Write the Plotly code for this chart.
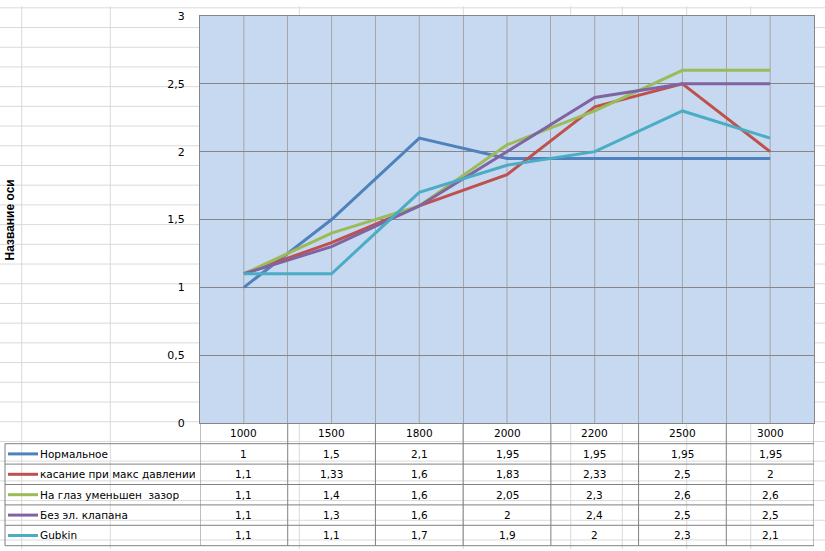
import plotly.graph_objects as go

# ---------------- data ----------------
categories = ["1000", "1500", "1800", "2000", "2200", "2500", "3000"]
series_names = [
    "Нормальное",
    "касание при макс давлении",
    "На глаз уменьшен  зазор",
    "Без эл. клапана",
    "Gubkin",
]
normalnoe = [1, 1.5, 2.1, 1.95, 1.95, 1.95, 1.95]
kasanie = [1.1, 1.33, 1.6, 1.83, 2.33, 2.5, 2]
na_glaz = [1.1, 1.4, 1.6, 2.05, 2.3, 2.6, 2.6]
bez_klapana = [1.1, 1.3, 1.6, 2, 2.4, 2.5, 2.5]
gubkin = [1.1, 1.1, 1.7, 1.9, 2, 2.3, 2.1]
y_tick_values = [0, 0.5, 1, 1.5, 2, 2.5, 3]
y_axis_title = "Название оси"

series_values = [normalnoe, kasanie, na_glaz, bez_klapana, gubkin]
colors = ["#4F81BD", "#C0504D", "#9BBB59", "#8064A2", "#4BACC6"]

# ---------------- geometry ----------------
FIG_W, FIG_H = 825, 551
ML, MR, MT, MB = 200, 11, 10, 128
PW = FIG_W - ML - MR
PH = FIG_H - MT - MB
FONT = "DejaVu Sans"
TXT = 10.5


def px_x(px):
    return (px - ML) / PW


def px_y(py):
    return (PH + MT - py) / PH


def fmt(v):
    return f"{v:g}".replace(".", ",")


# category index positions on the category axis
cat_pos = list(range(len(categories)))

# spreadsheet background grid (pixel positions)
sheet_cols = [21.7, 110.3, 299.3, 463.3, 570.7, 622.3, 686.7, 750.7]
sheet_rows = [1.7 + 20 * k for k in range(28)]
SHEET_COLOR = "#DADADA"

# table geometry (pixels)
TABLE_LEFT = 5
HEADER_BOTTOM = 444
ROW_H = 20.7
row_edges = [HEADER_BOTTOM + ROW_H * i for i in range(len(series_names) + 1)]
TABLE_BOTTOM = row_edges[-1]
BORDER = "#808080"

fig = go.Figure()

for name, vals, col in zip(series_names, series_values, colors):
    fig.add_trace(go.Scatter(
        x=categories, y=vals, mode="lines", name=name,
        line=dict(color=col, width=3), showlegend=False,
        hoverinfo="skip",
    ))

shapes = []
# spreadsheet lines
for py in sheet_rows:
    shapes.append(dict(type="line", xref="paper", yref="paper",
                       x0=px_x(0), x1=px_x(FIG_W), y0=px_y(py), y1=px_y(py),
                       line=dict(color=SHEET_COLOR, width=1), layer="below"))
for px in sheet_cols:
    shapes.append(dict(type="line", xref="paper", yref="paper",
                       x0=px_x(px), x1=px_x(px), y0=px_y(0), y1=px_y(FIG_H),
                       line=dict(color=SHEET_COLOR, width=1), layer="below"))
# plot area fill
shapes.append(dict(type="rect", xref="paper", yref="paper", x0=0, x1=1, y0=0, y1=1,
                   fillcolor="#C6D9F1", line=dict(width=0), layer="below"))
# vertical gridlines at category centres
for p in cat_pos:
    shapes.append(dict(type="line", xref="x", yref="paper", x0=p, x1=p, y0=0, y1=1,
                       line=dict(color="#A6A6A6", width=1), layer="below"))
# table horizontal borders
for py in row_edges:
    shapes.append(dict(type="line", xref="paper", yref="paper",
                       x0=px_x(TABLE_LEFT), x1=1, y0=px_y(py), y1=px_y(py),
                       line=dict(color=BORDER, width=1)))
# table vertical borders at category boundaries
for i in range(len(categories) + 1):
    shapes.append(dict(type="line", xref="x", yref="paper",
                       x0=i - 0.5, x1=i - 0.5, y0=0, y1=px_y(TABLE_BOTTOM),
                       line=dict(color=BORDER, width=1)))
shapes.append(dict(type="line", xref="paper", yref="paper",
                   x0=px_x(TABLE_LEFT), x1=px_x(TABLE_LEFT),
                   y0=px_y(HEADER_BOTTOM), y1=px_y(TABLE_BOTTOM),
                   line=dict(color=BORDER, width=1)))

annotations = []
# header (category labels)
header_y = px_y((PH + MT + HEADER_BOTTOM) / 2)
for p, c in zip(cat_pos, categories):
    annotations.append(dict(x=p, y=header_y, xref="x", yref="paper", text=c,
                            showarrow=False, xanchor="center", yanchor="middle",
                            font=dict(family=FONT, size=TXT, color="#000000")))
# rows
for r, (name, vals, col) in enumerate(zip(series_names, series_values, colors)):
    cy = px_y((row_edges[r] + row_edges[r + 1]) / 2)
    shapes.append(dict(type="line", xref="paper", yref="paper",
                       x0=px_x(8), x1=px_x(38), y0=cy, y1=cy,
                       line=dict(color=col, width=3)))
    annotations.append(dict(x=px_x(38), y=cy, xref="paper", yref="paper", text=name,
                            showarrow=False, xanchor="left", yanchor="middle",
                            font=dict(family=FONT, size=TXT, color="#000000")))
    for p, v in zip(cat_pos, vals):
        annotations.append(dict(x=p, y=cy, xref="x", yref="paper", text=fmt(v),
                                showarrow=False, xanchor="center", yanchor="middle",
                                font=dict(family=FONT, size=TXT, color="#000000")))
# y-axis title
annotations.append(dict(x=px_x(9), y=0.5, xref="paper", yref="paper", text=y_axis_title,
                        showarrow=False, textangle=-90, xanchor="center", yanchor="middle",
                        font=dict(family="Liberation Sans", size=12, color="#000000",
                                  weight="bold")))

fig.update_layout(
    width=FIG_W, height=FIG_H,
    margin=dict(l=ML, r=MR, t=MT, b=MB, pad=0),
    paper_bgcolor="#FFFFFF",
    plot_bgcolor="rgba(0,0,0,0)",
    separators=", ",
    shapes=shapes,
    annotations=annotations,
    font=dict(family=FONT, size=TXT, color="#000000"),
    xaxis=dict(type="category", range=[-0.5, len(categories) - 0.5],
               showticklabels=False, showgrid=True, tickson="boundaries",
               gridcolor="#A6A6A6", gridwidth=1, zeroline=False,
               showline=True, mirror=True, linecolor="#868686", linewidth=1,
               ticks=""),
    yaxis=dict(range=[0, 3], tickvals=y_tick_values, showgrid=True,
               gridcolor="#868686", gridwidth=1, zeroline=False,
               showline=True, mirror=True, linecolor="#868686", linewidth=1,
               ticks="", ticklabelstandoff=12,
               tickfont=dict(family=FONT, size=11, color="#000000")),
)

fig.write_html("out.html", config={"displayModeBar": False},
               post_script="document.body.style.margin='0';")
